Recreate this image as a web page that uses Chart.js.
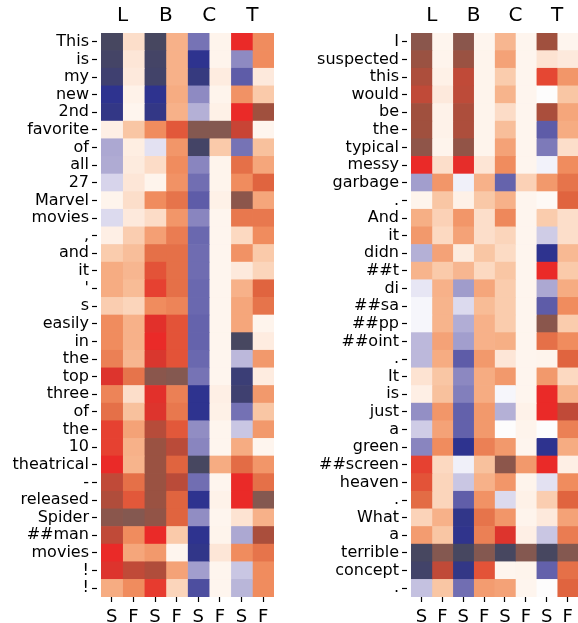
<!DOCTYPE html>
<html>
<head>
<meta charset="utf-8">
<script src="https://cdn.jsdelivr.net/npm/chart.js@4.4.1/dist/chart.umd.min.js"></script>
<style>
  body { margin: 0; background: #fff; }
  .panel { position: absolute; top: 0; }
</style>
</head>
<body>
<div class="panel" style="left:0"><canvas id="leftChart" width="280" height="623"></canvas></div>
<div class="panel" style="left:300px"><canvas id="rightChart" width="278" height="623"></canvas></div>
<script>
const groupLabels = ['L', 'B', 'C', 'T'];
const columnLabels = ['S', 'F', 'S', 'F', 'S', 'F', 'S', 'F'];

const leftTokens = ['This', 'is', 'my', 'new', '2nd', 'favorite', 'of', 'all', '27', 'Marvel',
  'movies', ',', 'and', 'it', "'", 's', 'easily', 'in', 'the', 'top', 'three', 'of', 'the', '10',
  'theatrical', '-', 'released', 'Spider', '##man', 'movies', '!', '!'];

const rightTokens = ['I', 'suspected', 'this', 'would', 'be', 'the', 'typical', 'messy', 'garbage', '.',
  'And', 'it', 'didn', '##t', 'di', '##sa', '##pp', '##oint', '.', 'It', 'is', 'just', 'a', 'green',
  '##screen', 'heaven', '.', 'What', 'a', 'terrible', 'concept', '.'];

// one row per token, columns L-S, L-F, B-S, B-F, C-S, C-F, T-S, T-F
const leftScores = [
  [-1, 0.17, -1, 0.38, -0.55, 0.03, 0.7, 0.5],
  [-0.98, 0.12, -0.98, 0.38, -0.85, 0.03, -0.45, 0.5],
  [-0.95, 0.1, -0.97, 0.38, -0.9, 0.08, -0.65, 0.1],
  [-0.85, 0.04, -0.85, 0.4, -0.45, 0.03, 0.48, 0.28],
  [-0.88, 0.02, -0.88, 0.38, -0.3, 0.05, 0.7, 0.9],
  [0.06, 0.3, 0.5, 0.62, 1.0, 1.0, 0.78, 0.02],
  [-0.33, 0.07, -0.12, 0.47, -0.98, 0.28, -0.55, 0.32],
  [-0.32, 0.09, 0.18, 0.5, -0.47, 0.03, 0.57, 0.42],
  [-0.17, 0.12, 0.03, 0.48, -0.57, 0.03, 0.5, 0.6],
  [0.03, 0.17, 0.5, 0.56, -0.65, 0.05, 0.97, 0.42],
  [-0.15, 0.1, 0.18, 0.47, -0.47, 0.02, 0.55, 0.55],
  [0.06, 0.26, 0.44, 0.54, -0.6, 0.02, 0.2, 0.5],
  [0.27, 0.33, 0.57, 0.57, -0.58, 0.02, 0.48, 0.28],
  [0.4, 0.36, 0.63, 0.57, -0.58, 0.02, 0.1, 0.22],
  [0.4, 0.34, 0.66, 0.57, -0.6, 0.02, 0.38, 0.6],
  [0.26, 0.22, 0.5, 0.52, -0.6, 0.02, 0.42, 0.56],
  [0.5, 0.38, 0.72, 0.63, -0.62, 0.02, 0.42, 0.03],
  [0.5, 0.38, 0.7, 0.63, -0.62, 0.02, -1.0, 0.08],
  [0.53, 0.36, 0.74, 0.63, -0.6, 0.02, -0.27, 0.46],
  [0.73, 0.56, 0.98, 1.0, -0.55, 0.02, -0.93, 0.08],
  [0.52, 0.17, 0.72, 0.53, -0.85, 0.06, -0.95, 0.46],
  [0.57, 0.32, 0.73, 0.55, -0.85, 0.05, -0.56, 0.3],
  [0.66, 0.43, 0.83, 0.62, -0.44, 0.02, -0.22, 0.46],
  [0.66, 0.38, 0.92, 0.82, -0.47, 0.02, 0.4, 0.02],
  [0.7, 0.37, 0.92, 0.6, -1.0, 0.4, 0.58, 0.47],
  [0.8, 0.57, 0.92, 0.82, -0.57, 0.02, 0.7, 0.57],
  [0.85, 0.62, 0.92, 0.6, -0.85, 0.04, 0.7, 1.0],
  [0.98, 1.0, 0.95, 0.6, -0.44, 0.02, 0.14, 0.38],
  [0.8, 0.5, 0.7, 0.28, -0.85, 0.03, -0.33, 0.87],
  [0.7, 0.42, 0.46, 0.02, -0.87, 0.12, 0.5, 0.56],
  [0.73, 0.8, 0.85, 0.43, -0.37, 0.02, -0.22, 0.5],
  [0.4, 0.5, 0.67, 0.22, -0.72, 0.02, -0.28, 0.5]
];

const rightScores = [
  [0.98, 0.02, 0.98, 0.02, 0.36, 0.02, 0.9, 0.02],
  [0.92, 0.03, 0.92, 0.03, 0.43, 0.02, 0.14, 0.1],
  [0.86, 0.05, 0.8, 0.03, 0.27, 0.02, 0.65, 0.47],
  [0.8, 0.1, 0.81, 0.03, 0.37, 0.02, 0.0, 0.3],
  [0.9, 0.04, 0.86, 0.03, 0.18, 0.02, 0.87, 0.42],
  [0.9, 0.04, 0.86, 0.03, 0.33, 0.02, -0.65, 0.4],
  [0.96, 0.03, 0.95, 0.03, 0.43, 0.02, -0.52, 0.17],
  [0.7, 0.17, 0.71, 0.13, 0.5, 0.02, -0.05, 0.5],
  [-0.37, 0.47, -0.06, 0.38, -0.62, 0.24, 0.46, 0.56],
  [0.03, 0.3, 0.05, 0.29, 0.38, 0.02, 0.01, 0.6],
  [0.39, 0.24, 0.47, 0.17, 0.51, 0.02, 0.27, 0.17],
  [0.46, 0.2, 0.43, 0.17, 0.22, 0.02, -0.2, 0.17],
  [-0.3, 0.43, 0.09, 0.3, 0.19, 0.02, -0.85, 0.35],
  [0.37, 0.28, 0.36, 0.2, 0.3, 0.02, 0.7, 0.28],
  [-0.1, 0.38, -0.38, 0.42, 0.27, 0.02, -0.33, 0.4],
  [-0.03, 0.37, -0.15, 0.34, 0.27, 0.02, -0.65, 0.5],
  [-0.03, 0.37, -0.31, 0.38, 0.27, 0.02, 0.98, 0.27],
  [-0.27, 0.43, -0.37, 0.38, 0.39, 0.02, 0.57, 0.5],
  [-0.27, 0.4, -0.65, 0.46, 0.12, 0.02, 0.03, 0.6],
  [0.14, 0.3, -0.46, 0.4, 0.46, 0.02, 0.46, 0.2],
  [0.06, 0.32, -0.5, 0.4, -0.03, 0.02, 0.7, 0.37],
  [-0.43, 0.47, -0.63, 0.46, -0.3, 0.04, 0.7, 0.8],
  [-0.2, 0.43, -0.63, 0.46, 0.0, 0.03, 0.0, 0.53],
  [-0.47, 0.5, -0.85, 0.53, 0.46, 0.02, -0.85, 0.4],
  [0.66, 0.2, -0.06, 0.32, 0.97, 0.46, 0.7, 0.06],
  [0.63, 0.22, -0.22, 0.38, 0.47, 0.03, -0.12, 0.5],
  [0.58, 0.22, -0.64, 0.48, -0.15, 0.05, 0.26, 0.6],
  [0.23, 0.38, -0.87, 0.56, 0.47, 0.03, 0.1, 0.43],
  [0.45, 0.3, -0.86, 0.53, 0.73, 0.06, -0.22, 0.54],
  [-1, 1, -1, 1, -1, 1, -1, 1],
  [-0.97, 0.8, -0.88, 0.63, 0.02, 0.03, -0.63, 0.57],
  [-0.24, 0.3, -0.57, 0.45, 0.43, 0.02, 0.0, 0.6]
];

// colour map: score -> colour
const colorStops = [
  [-1.00, '#474760'],
  [-0.85, '#2e338f'],
  [-0.65, '#5e5ca8'],
  [-0.45, '#8e8ac2'],
  [-0.30, '#b4b0d6'],
  [-0.15, '#dcdaee'],
  [-0.05, '#f2f2fa'],
  [0.00, '#fdfcfc'],
  [0.02, '#fef5ee'],
  [0.15, '#fde2d0'],
  [0.30, '#f9c6a4'],
  [0.40, '#f6ac82'],
  [0.50, '#f08c5e'],
  [0.60, '#e0643f'],
  [0.70, '#ea2a28'],
  [0.80, '#c04a38'],
  [0.90, '#a0503e'],
  [1.00, '#845850']
];

function hexToRgb(h) {
  return [parseInt(h.slice(1, 3), 16), parseInt(h.slice(3, 5), 16), parseInt(h.slice(5, 7), 16)];
}

function scoreColor(v) {
  if (v <= colorStops[0][0]) return colorStops[0][1];
  for (let i = 1; i < colorStops.length; i++) {
    const [v1, c1] = colorStops[i];
    if (v <= v1) {
      const [v0, c0] = colorStops[i - 1];
      const t = (v - v0) / (v1 - v0);
      const a = hexToRgb(c0), b = hexToRgb(c1);
      const rgb = a.map((x, k) => Math.round(x + (b[k] - x) * t));
      return 'rgb(' + rgb.join(',') + ')';
    }
  }
  return colorStops[colorStops.length - 1][1];
}

Chart.defaults.font.family = "'DejaVu Sans', sans-serif";
Chart.defaults.color = '#000';

function makeHeatmap(canvasId, tokens, scores, axisWidth, rightPad) {
  const datasets = columnLabels.map((label, c) => ({
    label: label,
    data: scores.map(() => 1),
    backgroundColor: scores.map(row => scoreColor(row[c])),
    borderWidth: 0,
    barPercentage: 1,
    categoryPercentage: 1
  }));

  new Chart(document.getElementById(canvasId), {
    type: 'bar',
    data: { labels: tokens, datasets: datasets },
    options: {
      indexAxis: 'y',
      responsive: false,
      animation: false,
      layout: { padding: { left: 0, right: rightPad, top: 0, bottom: 0 } },
      plugins: { legend: { display: false }, tooltip: { enabled: false } },
      scales: {
        x: {
          type: 'linear', stacked: true, min: 0, max: 8, position: 'bottom',
          afterBuildTicks: s => { s.ticks = columnLabels.map((_, i) => ({ value: i + 0.5 })); },
          ticks: { callback: (v, i) => columnLabels[i], font: { size: 18 }, padding: 5, maxRotation: 0, autoSkip: false },
          grid: { drawOnChartArea: false, drawTicks: true, tickLength: 5, color: '#000', tickColor: '#000', tickWidth: 1.2 },
          border: { display: false },
          afterFit: s => { s.height = 26; }
        },
        top: {
          type: 'linear', position: 'top', min: 0, max: 8,
          afterBuildTicks: s => { s.ticks = groupLabels.map((_, i) => ({ value: 2 * i + 1 })); },
          ticks: { callback: (v, i) => groupLabels[i], font: { size: 20 }, padding: 5, maxRotation: 0, autoSkip: false },
          grid: { display: false, drawTicks: false },
          border: { display: false },
          afterFit: s => { s.height = 33; }
        },
        y: {
          type: 'category', stacked: true, offset: true,
          ticks: { autoSkip: false, font: { size: 16 }, padding: 3 },
          grid: { offset: false, drawOnChartArea: false, drawTicks: true, tickLength: 9, color: '#000', tickColor: '#000', tickWidth: 1.2, tickBorderDash: [5, 4] },
          border: { display: false },
          afterFit: s => { s.width = axisWidth; }
        }
      }
    }
  });
}

makeHeatmap('leftChart', leftTokens, leftScores, 101, 6);
makeHeatmap('rightChart', rightTokens, rightScores, 111, 0);
</script>
</body>
</html>
